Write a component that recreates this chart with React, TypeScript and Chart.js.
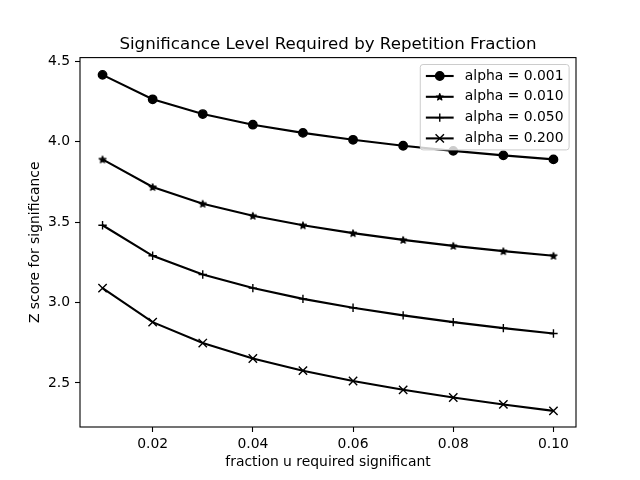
import React, { useEffect, useRef } from 'react';
import { Chart, registerables } from 'chart.js';

Chart.register(...registerables);

const FRACTIONS = [0.01, 0.02, 0.03, 0.04, 0.05, 0.06, 0.07, 0.08, 0.09, 0.1];
const Z_ALPHA_0001 = [4.417, 4.265, 4.173, 4.107, 4.056, 4.013, 3.976, 3.944, 3.916, 3.891];
const Z_ALPHA_0010 = [3.891, 3.719, 3.615, 3.54, 3.481, 3.432, 3.39, 3.353, 3.32, 3.291];
const Z_ALPHA_0050 = [3.481, 3.291, 3.175, 3.09, 3.023, 2.968, 2.92, 2.878, 2.841, 2.807];
const Z_ALPHA_0200 = [3.09, 2.878, 2.748, 2.652, 2.576, 2.512, 2.457, 2.409, 2.366, 2.326];
const SERIES_LABELS = ['alpha = 0.001', 'alpha = 0.010', 'alpha = 0.050', 'alpha = 0.200'];
const X_TICKS = [0.02, 0.04, 0.06, 0.08, 0.1];
const Y_TICKS = [2.5, 3.0, 3.5, 4.0, 4.5];
const TITLE = 'Significance Level Required by Repetition Fraction';
const X_LABEL = 'fraction u required significant';
const Y_LABEL = 'Z score for significance';

const FONT = '"DejaVu Sans", sans-serif';
const MARKER_KINDS = ['circle', 'star', 'cross', 'crossRot'];
const STAR_R = 3.6;

function starPath(ctx: CanvasRenderingContext2D, cx: number, cy: number, R: number) {
  const r = R * 0.381966;
  ctx.beginPath();
  for (let i = 0; i < 10; i++) {
    const rad = i % 2 === 0 ? R : r;
    const a = -Math.PI / 2 + (i * Math.PI) / 5;
    const px = cx + rad * Math.cos(a);
    const py = cy + rad * Math.sin(a);
    if (i === 0) ctx.moveTo(px, py);
    else ctx.lineTo(px, py);
  }
  ctx.closePath();
}

function makeStar(): HTMLCanvasElement {
  const c = document.createElement('canvas');
  c.width = 12;
  c.height = 12;
  const ctx = c.getContext('2d')!;
  ctx.fillStyle = '#000';
  ctx.strokeStyle = '#000';
  ctx.lineWidth = 1.2;
  ctx.lineJoin = 'round';
  starPath(ctx, 6, 6.3, STAR_R);
  ctx.fill();
  ctx.stroke();
  return c;
}

function drawMarker(ctx: CanvasRenderingContext2D, kind: string, x: number, y: number) {
  ctx.save();
  ctx.fillStyle = '#000';
  ctx.strokeStyle = '#000';
  ctx.lineWidth = 1.4;
  ctx.beginPath();
  const s = 4.2;
  if (kind === 'circle') {
    ctx.arc(x, y, s, 0, Math.PI * 2);
    ctx.fill();
    ctx.stroke();
  } else if (kind === 'star') {
    ctx.lineWidth = 1.2;
    ctx.lineJoin = 'round';
    starPath(ctx, x, y + 0.3, STAR_R);
    ctx.fill();
    ctx.stroke();
  } else if (kind === 'cross') {
    ctx.moveTo(x - s, y);
    ctx.lineTo(x + s, y);
    ctx.moveTo(x, y - s);
    ctx.lineTo(x, y + s);
    ctx.stroke();
  } else {
    ctx.moveTo(x - s, y - s);
    ctx.lineTo(x + s, y + s);
    ctx.moveTo(x - s, y + s);
    ctx.lineTo(x + s, y - s);
    ctx.stroke();
  }
  ctx.restore();
}

const framePlugin = {
  id: 'frameAndLegend',
  afterDraw(chart: any) {
    const { ctx, chartArea } = chart;
    ctx.save();
    ctx.strokeStyle = '#000';
    ctx.lineWidth = 1.1;
    ctx.strokeRect(chartArea.left, chartArea.top, chartArea.right - chartArea.left, chartArea.bottom - chartArea.top);

    // title
    ctx.fillStyle = '#000';
    ctx.font = `16.67px ${FONT}`;
    ctx.textAlign = 'center';
    ctx.textBaseline = 'alphabetic';
    ctx.fillText(TITLE, (chartArea.left + chartArea.right) / 2, chartArea.top - 8.6);

    // legend
    const fs = 13.9;
    ctx.font = `${fs}px ${FONT}`;
    let textW = 0;
    SERIES_LABELS.forEach((l) => {
      textW = Math.max(textW, ctx.measureText(l).width);
    });
    const pad = 5.6;
    const handle = 27.8;
    const gap = 11.1;
    const rowH = 20.8;
    const boxW = pad + handle + gap + textW + pad;
    const boxH = 2 * 11.5 + rowH * 3;
    const right = chartArea.right - 6.9;
    const top = chartArea.top + 6.9;
    const left = right - boxW;
    ctx.beginPath();
    const rr = 2.8;
    ctx.moveTo(left + rr, top);
    ctx.lineTo(right - rr, top);
    ctx.quadraticCurveTo(right, top, right, top + rr);
    ctx.lineTo(right, top + boxH - rr);
    ctx.quadraticCurveTo(right, top + boxH, right - rr, top + boxH);
    ctx.lineTo(left + rr, top + boxH);
    ctx.quadraticCurveTo(left, top + boxH, left, top + boxH - rr);
    ctx.lineTo(left, top + rr);
    ctx.quadraticCurveTo(left, top, left + rr, top);
    ctx.closePath();
    ctx.fillStyle = 'rgba(255,255,255,0.8)';
    ctx.fill();
    ctx.strokeStyle = '#cccccc';
    ctx.lineWidth = 1;
    ctx.stroke();

    SERIES_LABELS.forEach((label, i) => {
      const y = top + 11.5 + i * rowH;
      const x0 = left + pad;
      ctx.beginPath();
      ctx.strokeStyle = '#000';
      ctx.lineWidth = 2.1;
      ctx.moveTo(x0, y);
      ctx.lineTo(x0 + handle, y);
      ctx.stroke();
      drawMarker(ctx, MARKER_KINDS[i], x0 + handle / 2, y);
      ctx.fillStyle = '#000';
      ctx.font = `${fs}px ${FONT}`;
      ctx.textAlign = 'left';
      ctx.textBaseline = 'middle';
      ctx.fillText(label, x0 + handle + gap, y);
    });
    ctx.restore();
  },
};

export default function App() {
  const ref = useRef<HTMLCanvasElement | null>(null);

  useEffect(() => {
    document.body.style.margin = '0';
    if (!ref.current) return;
    const star = makeStar();
    const seriesValues = [Z_ALPHA_0001, Z_ALPHA_0010, Z_ALPHA_0050, Z_ALPHA_0200];
    const pointStyles: any[] = ['circle', star, 'cross', 'crossRot'];
    const radii = [4.2, 4.2, 4.2, 5.9];
    const datasets = seriesValues.map((vals, i) => ({
      label: SERIES_LABELS[i],
      data: FRACTIONS.map((x, j) => ({ x, y: vals[j] })),
      borderColor: '#000',
      backgroundColor: '#000',
      borderWidth: 2.1,
      tension: 0,
      pointStyle: pointStyles[i],
      pointRadius: radii[i],
      pointBorderWidth: 1.4,
      pointBackgroundColor: '#000',
      pointBorderColor: '#000',
      order: 4 - i,
    }));

    const tickFont = { family: FONT, size: 13.9 };
    const chart = new Chart(ref.current, {
      type: 'line',
      data: { datasets },
      options: {
        animation: false,
        responsive: false,
        events: [],
        layout: { padding: { left: 0, right: 64, top: 57.6, bottom: 0 } },
        plugins: {
          legend: { display: false },
          tooltip: { enabled: false },
          title: { display: false },
        },
        scales: {
          x: {
            type: 'linear',
            min: 0.0055,
            max: 0.1045,
            afterBuildTicks: (s: any) => {
              s.ticks = X_TICKS.map((v) => ({ value: v }));
            },
            afterFit: (s: any) => {
              s.height = 53;
            },
            grid: { drawOnChartArea: false, drawTicks: true, tickLength: 5, tickColor: '#000', tickWidth: 1.1, color: '#000' },
            border: { display: false },
            ticks: {
              color: '#000',
              font: tickFont,
              padding: 4,
              maxRotation: 0,
              autoSkip: false,
              callback: (v: any) => Number(v).toFixed(2),
            },
            title: {
              display: true,
              text: X_LABEL,
              color: '#000',
              font: tickFont,
              padding: { top: 0, bottom: 9.7 },
            },
          },
          y: {
            type: 'linear',
            min: 2.2255,
            max: 4.5245,
            afterBuildTicks: (s: any) => {
              s.ticks = Y_TICKS.map((v) => ({ value: v }));
            },
            afterFit: (s: any) => {
              s.width = 80;
            },
            grid: { drawOnChartArea: false, drawTicks: true, tickLength: 5, tickColor: '#000', tickWidth: 1.1, color: '#000' },
            border: { display: false },
            ticks: {
              color: '#000',
              font: tickFont,
              padding: 5,
              autoSkip: false,
              callback: (v: any) => Number(v).toFixed(1),
            },
            title: {
              display: true,
              text: Y_LABEL,
              color: '#000',
              font: tickFont,
              padding: { top: 26.7, bottom: 0 },
            },
          },
        },
      } as any,
      plugins: [framePlugin],
    });
    return () => chart.destroy();
  }, []);

  return <canvas ref={ref} width={640} height={480} style={{ display: 'block' }} />;
}
